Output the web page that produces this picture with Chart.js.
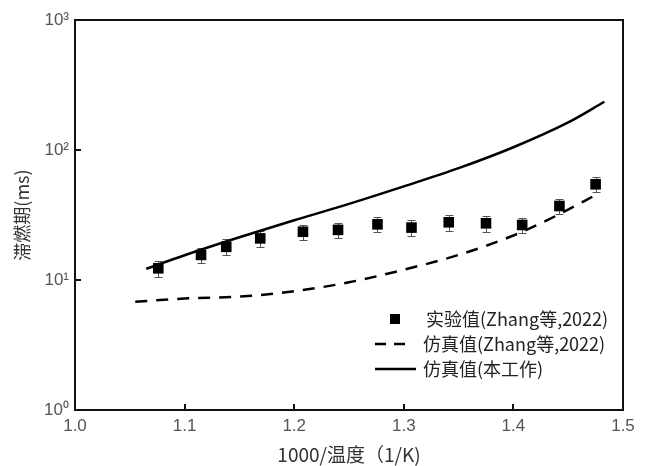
<!DOCTYPE html>
<html>
<head>
<meta charset="utf-8">
<script src="https://cdn.jsdelivr.net/npm/chart.js@4/dist/chart.umd.min.js"></script>
<style>
  html, body { margin: 0; padding: 0; background: #fff; }
  #wrap { width: 648px; height: 466px; }
</style>
</head>
<body>
<div id="wrap"><canvas id="ignition-chart"></canvas></div>
<script>
// experiment (Zhang et al., 2022) with error bars
const expX = [1.076, 1.115, 1.138, 1.169, 1.208, 1.240, 1.276, 1.307, 1.341, 1.375, 1.408, 1.442, 1.475];
const expY = [12.3, 15.6, 18.0, 20.9, 23.5, 24.3, 26.8, 25.3, 27.8, 27.3, 26.5, 37.1, 54.5];
const expErr = [1.7, 2.1, 2.5, 2.8, 3.2, 3.3, 3.6, 3.4, 3.8, 3.7, 3.6, 5.0, 7.0];

// simulation (Zhang et al., 2022) - dashed
const zhangSimX = [1.055, 1.10, 1.15, 1.20, 1.25, 1.30, 1.35, 1.40, 1.44, 1.477];
const zhangSimY = [6.8, 7.2, 7.45, 8.2, 9.6, 12.0, 15.6, 22.0, 31.5, 46];

// simulation (this work) - solid
const thisWorkX = [1.065, 1.10, 1.15, 1.20, 1.25, 1.30, 1.35, 1.40, 1.45, 1.483];
const thisWorkY = [12.2, 15.5, 21.3, 28.8, 38.5, 52.5, 72.5, 105, 163, 235];

const yTickValues = [1, 10, 100, 1000];
const yTickLabels = ['10⁰', '10¹', '10²', '10³'];
const xTickLabels = ['1.0', '1.1', '1.2', '1.3', '1.4', '1.5'];

const legendLabels = ['实验值(Zhang等,2022)', '仿真值(Zhang等,2022)', '仿真值(本工作)'];

const toPoints = (xs, ys) => xs.map((v, i) => ({ x: v, y: ys[i] }));

const cjkFont = '"Noto Sans CJK SC", "Noto Sans", sans-serif';

const extras = {
  id: 'extras',
  beforeDatasetsDraw(chart) {
    const { ctx, scales: { x, y } } = chart;
    ctx.save();
    ctx.strokeStyle = '#555';
    ctx.lineWidth = 1;
    expX.forEach((xv, i) => {
      const px = Math.round(x.getPixelForValue(xv)) + 0.5;
      const top = Math.round(y.getPixelForValue(expY[i] + expErr[i])) + 0.5;
      const bot = Math.round(y.getPixelForValue(expY[i] - expErr[i])) + 0.5;
      ctx.beginPath();
      ctx.moveTo(px, top); ctx.lineTo(px, bot);
      ctx.moveTo(px - 4, top); ctx.lineTo(px + 4, top);
      ctx.moveTo(px - 4, bot); ctx.lineTo(px + 4, bot);
      ctx.stroke();
    });
    ctx.restore();
  },
  afterDraw(chart) {
    const { ctx, chartArea: a, scales: { x, y } } = chart;
    ctx.save();
    // inward ticks
    ctx.strokeStyle = '#111';
    ctx.lineWidth = 2;
    ctx.beginPath();
    [1.1, 1.2, 1.3, 1.4].forEach(v => {
      const px = Math.round(x.getPixelForValue(v));
      ctx.moveTo(px, a.bottom); ctx.lineTo(px, a.bottom - 6);
    });
    [10, 100].forEach(v => {
      const py = Math.round(y.getPixelForValue(v));
      ctx.moveTo(a.left, py); ctx.lineTo(a.left + 6, py);
    });
    ctx.stroke();
    // frame
    ctx.strokeRect(a.left, a.top, a.right - a.left, a.bottom - a.top);

    // legend
    const lx = a.left + 300, ly = a.top + 299, gap = 25;
    ctx.fillStyle = '#000';
    ctx.fillRect(lx + 15, ly - 5, 10, 10);
    ctx.strokeStyle = '#000';
    ctx.lineWidth = 2.5;
    ctx.beginPath();
    ctx.moveTo(lx, ly + gap); ctx.lineTo(lx + 11, ly + gap);
    ctx.moveTo(lx + 19, ly + gap); ctx.lineTo(lx + 30, ly + gap);
    ctx.moveTo(lx, ly + 2 * gap); ctx.lineTo(lx + 41, ly + 2 * gap);
    ctx.stroke();
    ctx.fillStyle = '#222';
    ctx.font = '18px ' + cjkFont;
    ctx.textBaseline = 'middle';
    ctx.textAlign = 'left';
    legendLabels.forEach((t, i) => {
      ctx.fillText(t, lx + (i === 0 ? 51 : 48), ly + i * gap);
    });
    ctx.restore();
  }
};

new Chart(document.getElementById('ignition-chart'), {
  type: 'scatter',
  data: {
    datasets: [
      {
        label: legendLabels[0],
        data: toPoints(expX, expY),
        pointStyle: 'rect',
        pointRadius: 7.5,
        backgroundColor: '#000',
        borderColor: '#000',
        borderWidth: 0
      },
      {
        label: legendLabels[1],
        data: toPoints(zhangSimX, zhangSimY),
        showLine: true,
        pointRadius: 0,
        borderColor: '#000',
        borderWidth: 2.5,
        borderDash: [12, 9],
        cubicInterpolationMode: 'monotone'
      },
      {
        label: legendLabels[2],
        data: toPoints(thisWorkX, thisWorkY),
        showLine: true,
        pointRadius: 0,
        borderColor: '#000',
        borderWidth: 2.5,
        cubicInterpolationMode: 'monotone'
      }
    ]
  },
  options: {
    responsive: true,
    maintainAspectRatio: false,
    animation: false,
    layout: { padding: { left: 0, right: 25, top: 20, bottom: 0 } },
    plugins: { legend: { display: false }, tooltip: { enabled: false } },
    scales: {
      x: {
        type: 'linear',
        min: 1.0,
        max: 1.5,
        afterFit: s => { s.height = 56; },
        afterBuildTicks: s => { s.ticks = xTickLabels.map(t => ({ value: parseFloat(t) })); },
        ticks: {
          padding: 6,
          color: '#555',
          font: { family: '"Liberation Sans", Arial, sans-serif', size: 17 },
          callback: (v, i) => xTickLabels[i]
        },
        grid: { display: false, drawTicks: false },
        border: { display: false },
        title: {
          display: true,
          text: '1000/温度（1/K)',
          color: '#333',
          font: { family: cjkFont, size: 19 },
          padding: { top: 0, bottom: 0 }
        }
      },
      y: {
        type: 'logarithmic',
        min: 1,
        max: 1000,
        afterFit: s => { s.width = 75; },
        afterBuildTicks: s => { s.ticks = yTickValues.map(v => ({ value: v })); },
        ticks: {
          padding: 6,
          color: '#555',
          font: { family: '"Liberation Sans", Arial, sans-serif', size: 17 },
          callback: (v, i) => yTickLabels[i]
        },
        grid: { display: false, drawTicks: false },
        border: { display: false },
        title: {
          display: true,
          text: '滞燃期(ms)',
          color: '#333',
          font: { family: cjkFont, size: 18 },
          padding: { top: 11, bottom: 0 }
        }
      }
    }
  },
  plugins: [extras]
});
</script>
</body>
</html>
